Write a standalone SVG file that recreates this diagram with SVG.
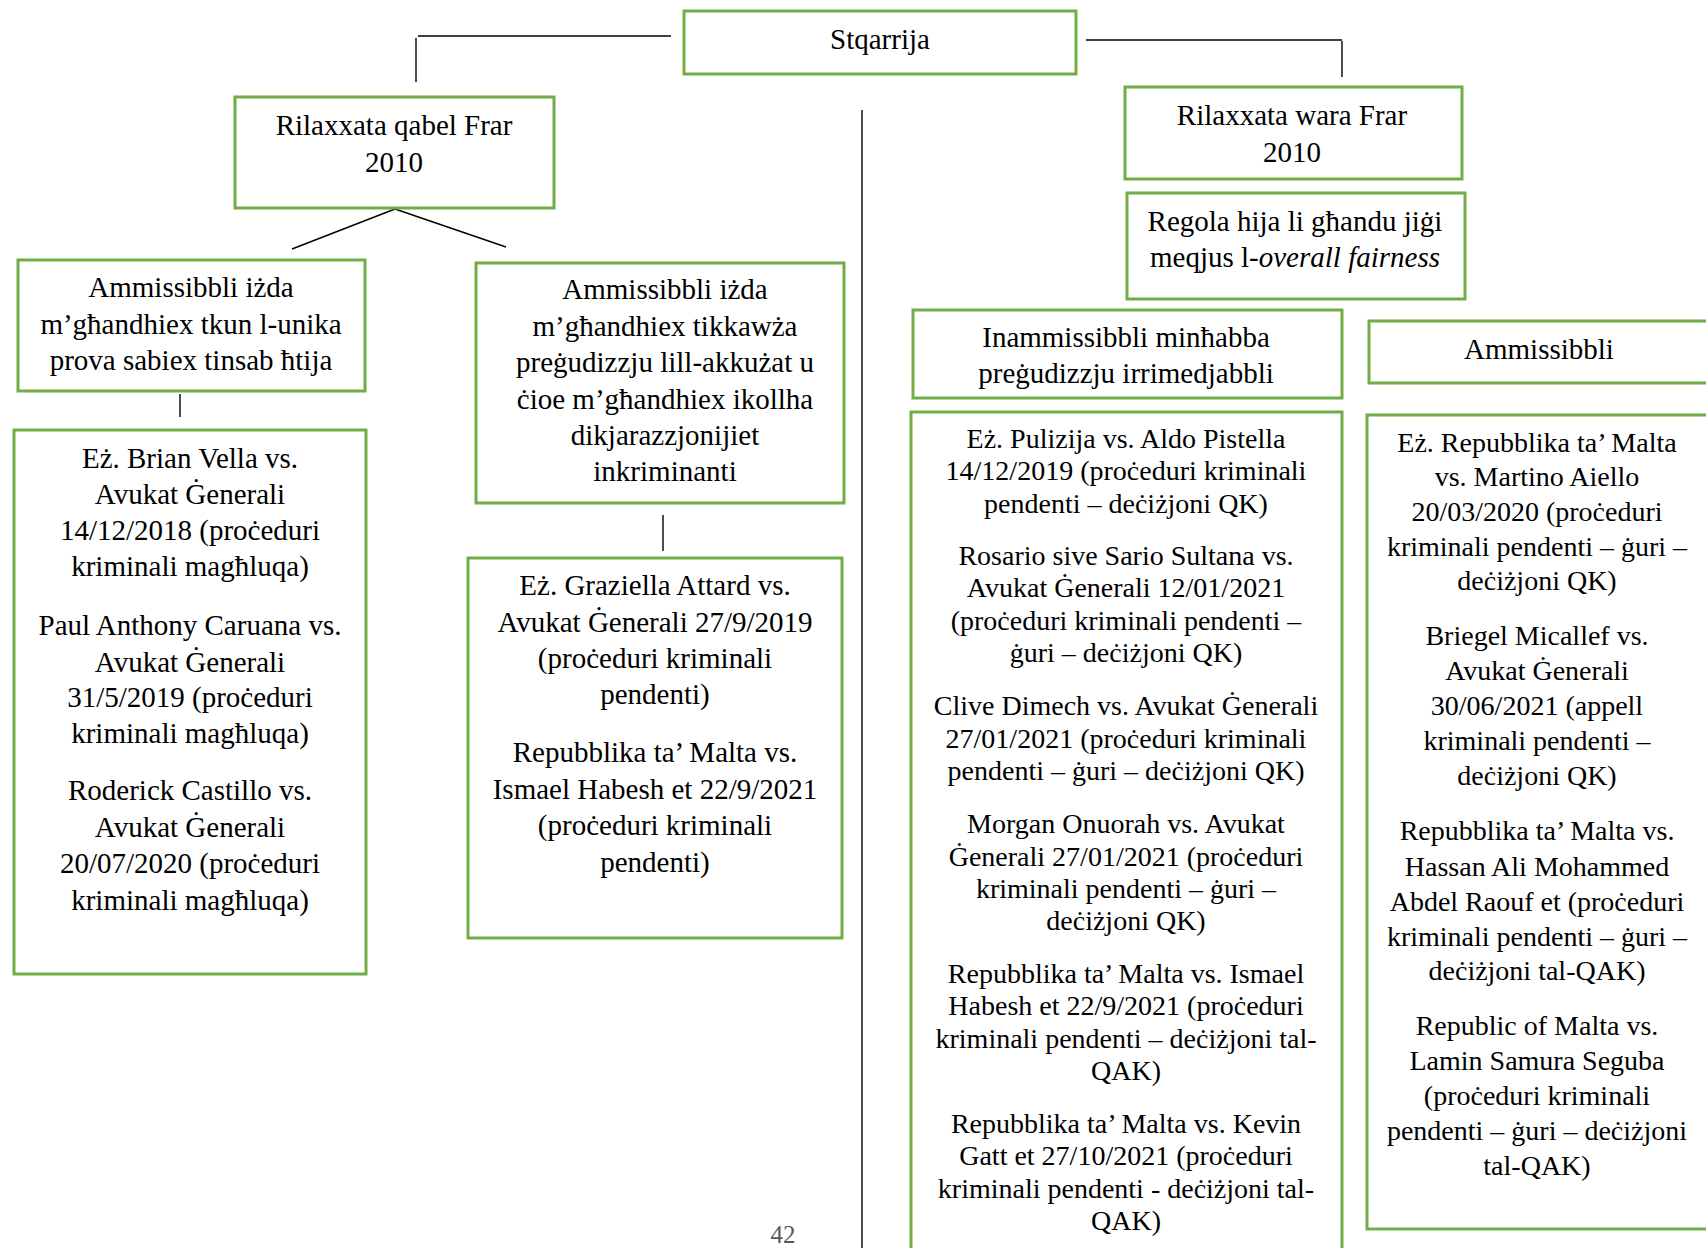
<svg xmlns="http://www.w3.org/2000/svg" width="1706" height="1248" viewBox="0 0 1706 1248">
<style>
.box{fill:#fff;stroke:#70AD47;stroke-width:3}
.t{font-family:"Liberation Serif","Times New Roman",serif;font-size:29px;fill:#000;text-anchor:middle}
.s{font-size:28px}
.ln{stroke:#000;stroke-width:1.4;fill:none}
.hl{stroke:#404040;stroke-width:2.2;fill:none}
.pg{font-family:"Liberation Serif","Times New Roman",serif;font-size:25px;fill:#595959;text-anchor:middle}
</style>
<rect width="1706" height="1248" fill="#fff"/>
<g id="connectors">
<line class="hl" x1="418" y1="36" x2="671" y2="36"/>
<line class="ln" x1="416" y1="38" x2="416" y2="82"/>
<line class="hl" x1="1086" y1="40" x2="1342" y2="40"/>
<line class="ln" x1="1342" y1="41" x2="1342" y2="77"/>
<line class="ln" x1="395" y1="209" x2="292" y2="249"/>
<line class="ln" x1="395" y1="209" x2="506" y2="247"/>
<line class="ln" x1="180" y1="394" x2="180" y2="417"/>
<line class="ln" x1="663" y1="515" x2="663" y2="551"/>
<line class="ln" x1="862" y1="110" x2="862" y2="1248"/>
</g>
<g id="stqarrija">
<rect class="box" x="684" y="11" width="392" height="63"/>
<text class="t" x="880" y="49">Stqarrija</text>
</g>
<g id="qabel">
<rect class="box" x="235" y="97" width="319" height="111"/>
<text class="t" x="394" y="135">Rilaxxata qabel Frar</text>
<text class="t" x="394" y="172">2010</text>
</g>
<g id="ammissibbli-unika">
<rect class="box" x="18" y="260" width="347" height="131"/>
<text class="t" x="191" y="297">Ammissibbli iżda</text>
<text class="t" x="191" y="334">m’għandhiex tkun l-unika</text>
<text class="t" x="191" y="370">prova sabiex tinsab ħtija</text>
</g>
<g id="ammissibbli-pregudizzju">
<rect class="box" x="476" y="263" width="368" height="240"/>
<text class="t" x="665" y="299">Ammissibbli iżda</text>
<text class="t" x="665" y="336">m’għandhiex tikkawża</text>
<text class="t" x="665" y="372">preġudizzju lill-akkużat u</text>
<text class="t" x="665" y="409">ċioe m’għandhiex ikollha</text>
<text class="t" x="665" y="445">dikjarazzjonijiet</text>
<text class="t" x="665" y="481">inkriminanti</text>
</g>
<g id="lista-qabel-1">
<rect class="box" x="14" y="430" width="352" height="544"/>
<text class="t" x="190" y="468">Eż. Brian Vella vs.</text>
<text class="t" x="190" y="504">Avukat Ġenerali</text>
<text class="t" x="190" y="540">14/12/2018 (proċeduri</text>
<text class="t" x="190" y="576">kriminali magħluqa)</text>
<text class="t" x="190" y="635">Paul Anthony Caruana vs.</text>
<text class="t" x="190" y="672">Avukat Ġenerali</text>
<text class="t" x="190" y="707">31/5/2019 (proċeduri</text>
<text class="t" x="190" y="743">kriminali magħluqa)</text>
<text class="t" x="190" y="800">Roderick Castillo vs.</text>
<text class="t" x="190" y="837">Avukat Ġenerali</text>
<text class="t" x="190" y="873">20/07/2020 (proċeduri</text>
<text class="t" x="190" y="910">kriminali magħluqa)</text>
</g>
<g id="lista-qabel-2">
<rect class="box" x="468" y="558" width="374" height="380"/>
<text class="t" x="655" y="595">Eż. Graziella Attard vs.</text>
<text class="t" x="655" y="632">Avukat Ġenerali 27/9/2019</text>
<text class="t" x="655" y="668">(proċeduri kriminali</text>
<text class="t" x="655" y="704">pendenti)</text>
<text class="t" x="655" y="762">Repubblika ta’ Malta vs.</text>
<text class="t" x="655" y="799">Ismael Habesh et 22/9/2021</text>
<text class="t" x="655" y="835">(proċeduri kriminali</text>
<text class="t" x="655" y="872">pendenti)</text>
</g>
<g id="wara">
<rect class="box" x="1125" y="87" width="337" height="92"/>
<text class="t" x="1292" y="125">Rilaxxata wara Frar</text>
<text class="t" x="1292" y="162">2010</text>
</g>
<g id="regola">
<rect class="box" x="1127" y="193" width="338" height="106"/>
<text class="t" x="1295" y="231">Regola hija li għandu jiġi</text>
<text class="t" x="1295" y="267">meqjus l-<tspan font-style="italic">overall fairness</tspan></text>
</g>
<g id="inammissibbli">
<rect class="box" x="913" y="310" width="429" height="88"/>
<text class="t" x="1126" y="347">Inammissibbli minħabba</text>
<text class="t" x="1126" y="383">preġudizzju irrimedjabbli</text>
</g>
<g id="ammissibbli">
<rect class="box" x="1369" y="321" width="353" height="62"/>
<text class="t" x="1539" y="359">Ammissibbli</text>
</g>
<g id="lista-inammissibbli">
<rect class="box" x="911" y="412" width="431" height="860"/>
<text class="t s" x="1126" y="448">Eż. Pulizija vs. Aldo Pistella</text>
<text class="t s" x="1126" y="480">14/12/2019 (proċeduri kriminali</text>
<text class="t s" x="1126" y="513">pendenti – deċiżjoni QK)</text>
<text class="t s" x="1126" y="565">Rosario sive Sario Sultana vs.</text>
<text class="t s" x="1126" y="597">Avukat Ġenerali 12/01/2021</text>
<text class="t s" x="1126" y="630">(proċeduri kriminali pendenti –</text>
<text class="t s" x="1126" y="662">ġuri – deċiżjoni QK)</text>
<text class="t s" x="1126" y="715">Clive Dimech vs. Avukat Ġenerali</text>
<text class="t s" x="1126" y="748">27/01/2021 (proċeduri kriminali</text>
<text class="t s" x="1126" y="780">pendenti – ġuri – deċiżjoni QK)</text>
<text class="t s" x="1126" y="833">Morgan Onuorah vs. Avukat</text>
<text class="t s" x="1126" y="866">Ġenerali 27/01/2021 (proċeduri</text>
<text class="t s" x="1126" y="898">kriminali pendenti – ġuri –</text>
<text class="t s" x="1126" y="930">deċiżjoni QK)</text>
<text class="t s" x="1126" y="983">Repubblika ta’ Malta vs. Ismael</text>
<text class="t s" x="1126" y="1015">Habesh et 22/9/2021 (proċeduri</text>
<text class="t s" x="1126" y="1048">kriminali pendenti – deċiżjoni tal-</text>
<text class="t s" x="1126" y="1080">QAK)</text>
<text class="t s" x="1126" y="1133">Repubblika ta’ Malta vs. Kevin</text>
<text class="t s" x="1126" y="1165">Gatt et 27/10/2021 (proċeduri</text>
<text class="t s" x="1126" y="1198">kriminali pendenti - deċiżjoni tal-</text>
<text class="t s" x="1126" y="1230">QAK)</text>
</g>
<g id="lista-ammissibbli">
<rect class="box" x="1367" y="415" width="355" height="814"/>
<text class="t s" x="1537" y="452">Eż. Repubblika ta’ Malta</text>
<text class="t s" x="1537" y="486">vs. Martino Aiello</text>
<text class="t s" x="1537" y="521">20/03/2020 (proċeduri</text>
<text class="t s" x="1537" y="556">kriminali pendenti – ġuri –</text>
<text class="t s" x="1537" y="590">deċiżjoni QK)</text>
<text class="t s" x="1537" y="645">Briegel Micallef vs.</text>
<text class="t s" x="1537" y="680">Avukat Ġenerali</text>
<text class="t s" x="1537" y="715">30/06/2021 (appell</text>
<text class="t s" x="1537" y="750">kriminali pendenti –</text>
<text class="t s" x="1537" y="785">deċiżjoni QK)</text>
<text class="t s" x="1537" y="840">Repubblika ta’ Malta vs.</text>
<text class="t s" x="1537" y="876">Hassan Ali Mohammed</text>
<text class="t s" x="1537" y="911">Abdel Raouf et (proċeduri</text>
<text class="t s" x="1537" y="946">kriminali pendenti – ġuri –</text>
<text class="t s" x="1537" y="980">deċiżjoni tal-QAK)</text>
<text class="t s" x="1537" y="1035">Republic of Malta vs.</text>
<text class="t s" x="1537" y="1070">Lamin Samura Seguba</text>
<text class="t s" x="1537" y="1105">(proċeduri kriminali</text>
<text class="t s" x="1537" y="1140">pendenti – ġuri – deċiżjoni</text>
<text class="t s" x="1537" y="1175">tal-QAK)</text>
</g>
<text class="pg" x="783" y="1243">42</text>
</svg>
